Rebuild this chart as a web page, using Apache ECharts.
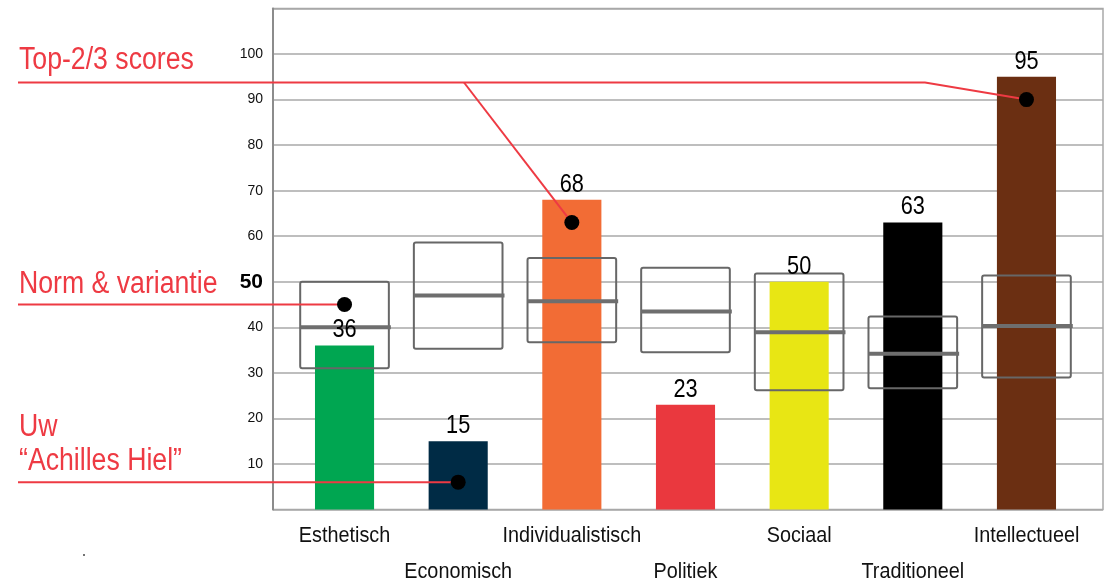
<!DOCTYPE html>
<html>
<head>
<meta charset="utf-8">
<script src="https://cdn.jsdelivr.net/npm/echarts@6/dist/echarts.min.js"></script>
<style>
  html, body { margin: 0; padding: 0; background: #ffffff; }
  #chart { width: 1108px; height: 583px; }
</style>
</head>
<body>
<div id="chart"></div>
<script>
// Value profile per domain
const categories = ['Esthetisch', 'Economisch', 'Individualistisch', 'Politiek', 'Sociaal', 'Traditioneel', 'Intellectueel'];
const scores = [36, 15, 68, 23, 50, 63, 95];
const barColors = ['#00a651', '#002b45', '#f26c35', '#ea383e', '#e8e614', '#000000', '#6b2f12'];

// Norm band (low / median / high) per domain
const normLow = [31, 35.3, 36.7, 34.5, 26.2, 26.6, 29];
const normMid = [40, 47, 45.7, 43.5, 38.9, 34.2, 40.3];
const normHigh = [50, 58.6, 55.2, 53.1, 51.8, 42.4, 51.4];

// Highlighted points (null where no point is shown)
const markers = [45, 6, 63, null, null, null, 90];

// Value axis
const yMin = 0;
const yMax = 110;
const yStep = 10;
const yHiddenTicks = [0, 110];
const yBoldTick = 50;

// Callout texts and the markers they point to
const calloutTop = { text: 'Top-2/3 scores', targets: [2, 6] };
const calloutNorm = { text: 'Norm & variantie', targets: [0] };
const calloutWeak = { text: 'Uw\n\u201CAchilles Hiel\u201D', targets: [1] };

const FONT = "'Liberation Sans', Arial, Helvetica, sans-serif";
const NARROW = 0.9;          // horizontal squeeze for the condensed look
const RED = '#ee3a43';
const GRID_GRAY = '#a9a9a9';

const chart = echarts.init(document.getElementById('chart'), null, { renderer: 'canvas' });

// Text element squeezed horizontally around its anchor point
function squeezedText(x, y, text, size, color, sx, weight) {
  return {
    type: 'text', x: x, y: y, scaleX: sx,
    style: {
      text: text, fill: color, textAlign: 'center', textVerticalAlign: 'middle',
      font: (weight || 'normal') + ' ' + size + 'px ' + FONT
    }
  };
}

const option = {
  animation: false,
  backgroundColor: '#ffffff',
  textStyle: { fontFamily: FONT },
  grid: [
    { left: 273, right: 5, top: 8.5, bottom: 73.5, outerBoundsMode: 'none', containLabel: false,
      show: true, borderColor: GRID_GRAY, borderWidth: 1.5, backgroundColor: 'transparent' },
    { left: 287.7, right: 24.7, top: 8.5, bottom: 73.5, outerBoundsMode: 'none', containLabel: false }
  ],
  xAxis: [
    { gridIndex: 0, type: 'value', min: 0, max: 1, show: false },
    {
      gridIndex: 1, type: 'category', data: categories,
      axisLine: { show: false }, axisTick: { show: false }, axisLabel: { show: false }
    }
  ],
  yAxis: [
    {
      gridIndex: 0, type: 'value', min: yMin, max: yMax, interval: yStep,
      axisLine: { show: true, lineStyle: { color: '#8c8c8c', width: 2 } },
      axisTick: { show: false },
      splitLine: { show: true, lineStyle: { color: GRID_GRAY, width: 1.5 } },
      axisLabel: {
        margin: 10, color: '#111', fontFamily: FONT, fontSize: 14,
        formatter: v => (yHiddenTicks.includes(v) ? '' : (v === yBoldTick ? '{b|' + v + '}' : String(v))),
        rich: { b: { fontFamily: FONT, fontSize: 21, fontWeight: 'bold', color: '#000' } }
      }
    },
    { gridIndex: 1, type: 'value', min: yMin, max: yMax, interval: yStep, show: false }
  ],
  series: [
    {
      name: 'score', type: 'bar', xAxisIndex: 1, yAxisIndex: 1, barWidth: '52%', z: 2,
      data: scores.map((v, i) => ({ value: v, itemStyle: { color: barColors[i] } }))
    },
    {
      name: 'norm', type: 'custom', xAxisIndex: 1, yAxisIndex: 1, z: 3,
      data: categories.map((c, i) => [i, normLow[i], normMid[i], normHigh[i]]),
      renderItem: (params, api) => {
        const i = api.value(0);
        const top = api.coord([i, api.value(3)]);
        const bot = api.coord([i, api.value(1)]);
        const mid = api.coord([i, api.value(2)]);
        const w = api.size([1, 0])[0] * 0.78;
        const x0 = top[0] - w / 2;
        return {
          type: 'group',
          children: [
            { type: 'rect', shape: { x: x0, y: top[1], width: w, height: bot[1] - top[1], r: 2 },
              style: { fill: 'none', stroke: '#676767', lineWidth: 2 } },
            { type: 'line', shape: { x1: x0, y1: mid[1], x2: x0 + w + 2, y2: mid[1] },
              style: { stroke: '#6e6e6e', lineWidth: 4 } }
          ]
        };
      }
    },
    {
      // score values above the bars
      name: 'scoreLabels', type: 'custom', xAxisIndex: 1, yAxisIndex: 1, z: 4, clip: false,
      data: scores.map((v, i) => [i, v]),
      renderItem: (params, api) => {
        const p = api.coord([api.value(0), api.value(1)]);
        return squeezedText(p[0], p[1] - 15, String(api.value(1)), 25, '#000', 0.87);
      }
    },
    {
      // category names in two staggered rows
      name: 'categoryLabels', type: 'custom', xAxisIndex: 1, yAxisIndex: 1, z: 4, clip: false,
      data: categories.map((c, i) => [i, 0]),
      renderItem: (params, api) => {
        const i = api.value(0);
        const p = api.coord([i, 0]);
        const dy = i % 2 === 1 ? 62.5 : 26;
        return squeezedText(p[0], p[1] + dy, categories[i], 22, '#111', NARROW);
      }
    },
    {
      name: 'markers', type: 'scatter', xAxisIndex: 1, yAxisIndex: 1, z: 50,
      symbol: 'circle', symbolSize: 15, itemStyle: { color: '#000', opacity: 1 },
      data: markers.map((v, i) => (v == null ? null : [i, v])).filter(d => d)
    }
  ]
};

chart.setOption(option);

// Callout lines from the left margin to the markers
const px = i => chart.convertToPixel({ xAxisIndex: 1, yAxisIndex: 1 }, [i, markers[i]]);
const lineStyle = { stroke: RED, lineWidth: 2, fill: 'none' };
const callText = (t, y) => ({
  type: 'text', x: 19, y: y, scaleX: 0.86, z: 10,
  style: { text: t, font: '31px ' + FONT, fill: RED, textVerticalAlign: 'middle', lineHeight: 34 }
});

const pTop1 = px(calloutTop.targets[0]);
const pTop2 = px(calloutTop.targets[1]);
const pNorm = px(calloutNorm.targets[0]);
const pWeak = px(calloutWeak.targets[0]);
const topY = 82.5;

chart.setOption({
  graphic: [
    callText(calloutTop.text, 60),
    callText(calloutNorm.text, 284),
    callText(calloutWeak.text, 444),
    { type: 'polyline', z: 10, shape: { points: [[18, topY], [925, topY], pTop2] }, style: lineStyle },
    { type: 'polyline', z: 10, shape: { points: [[464, topY], pTop1] }, style: lineStyle },
    { type: 'polyline', z: 10, shape: { points: [[18, pNorm[1]], pNorm] }, style: lineStyle },
    { type: 'polyline', z: 10, shape: { points: [[18, pWeak[1]], pWeak] }, style: lineStyle },
    { type: 'circle', z: 10, shape: { cx: 84, cy: 555, r: 1 }, style: { fill: '#444' } }
  ]
});
</script>
</body>
</html>
